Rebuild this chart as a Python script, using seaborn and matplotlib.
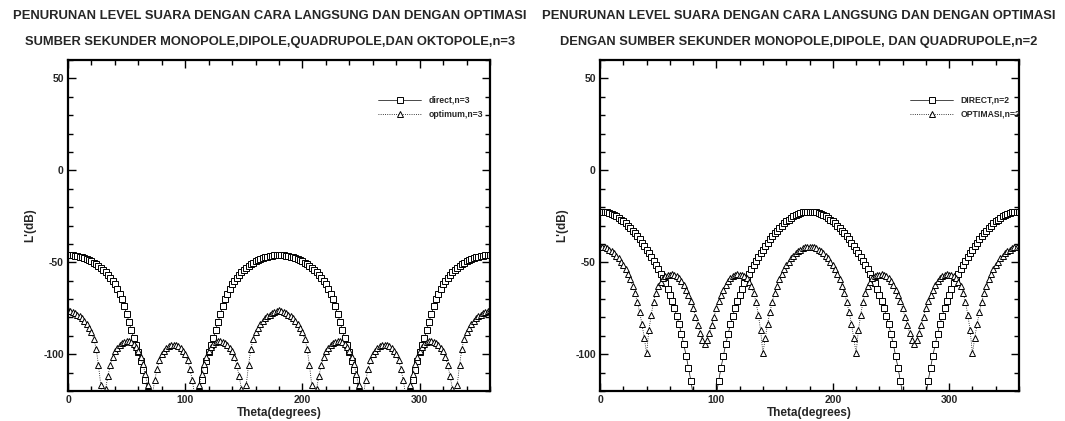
import matplotlib
matplotlib.use("Agg")
import matplotlib.pyplot as plt
import seaborn as sns
import pandas as pd
from matplotlib.ticker import MultipleLocator

sns.set_style("ticks")
plt.rcParams['font.family'] = ['Liberation Sans', 'DejaVu Sans']
plt.rcParams['font.weight'] = 'bold'
plt.rcParams['axes.unicode_minus'] = False

THETA = list(range(0, 361, 2))

direct_n3 = [
    -46.0, -46.0, -46.2, -46.4, -46.7, -47.0, -47.4, -47.8, -48.3, -48.9, -49.5, -50.3, -51.1, -52.0, -53.0, -54.0,
    -55.3, -56.7, -58.3, -60.0, -62.0, -64.4, -67.0, -70.0, -73.8, -78.0, -82.3, -86.8, -91.0, -95.0, -99.0,
    -103.6, -108.5, -114.0, -120.5, -128, -136, -144, -150, -150, -150, -150, -150, -150, -150, -150,
    -150, -150, -150, -150, -150, -150, -150, -144, -136, -128, -120.5, -114.0, -108.5, -103.6, -99.0, -95.0,
    -91.0, -86.8, -82.3, -78.0, -73.8, -70.0, -67.0, -64.4, -62.0, -60.0, -58.3, -56.7, -55.3, -54.0, -53.0,
    -52.0, -51.1, -50.3, -49.5, -48.9, -48.3, -47.8, -47.4, -47.0, -46.7, -46.4, -46.2, -46.0, -46.0,
    -46.0, -46.2, -46.4, -46.7, -47.0, -47.4, -47.8, -48.3, -48.9, -49.5, -50.3, -51.1, -52.0, -53.0, -54.0,
    -55.3, -56.7, -58.3, -60.0, -62.0, -64.4, -67.0, -70.0, -73.8, -78.0, -82.3, -86.8, -91.0, -95.0, -99.0,
    -103.6, -108.5, -114.0, -120.5, -128, -136, -144, -150, -150, -150, -150, -150, -150, -150, -150,
    -150, -150, -150, -150, -150, -150, -150, -144, -136, -128, -120.5, -114.0, -108.5, -103.6, -99.0, -95.0,
    -91.0, -86.8, -82.3, -78.0, -73.8, -70.0, -67.0, -64.4, -62.0, -60.0, -58.3, -56.7, -55.3, -54.0, -53.0,
    -52.0, -51.1, -50.3, -49.5, -48.9, -48.3, -47.8, -47.4, -47.0, -46.7, -46.4, -46.2, -46.0, -46.0,
]

optimum_n3 = [
    -76.0, -76.3, -77.0, -77.7, -78.5, -79.4, -80.5, -82.0, -83.5, -85.5, -88.0, -91.5, -97.0, -106.0, -117.0,
    -126.0, -119.0, -112.0, -106.0, -101.5, -98.5, -96.5, -95.0, -93.8, -93.2, -92.8, -93.0, -93.6, -94.6, -96.2,
    -98.5, -101.5, -105.5, -111.0, -117.0, -125.0, -122.0, -114.0, -108.0, -103.0, -100.0, -98.0, -96.6, -95.7,
    -95.2, -95.0,
    -95.2, -95.7, -96.6, -98.0, -100.0, -103.0, -108.0, -114.0, -122.0, -125.0, -117.0, -111.0, -105.5, -101.5,
    -98.5, -96.2, -94.6, -93.6, -93.0, -92.8, -93.2, -93.8, -95.0, -96.5, -98.5, -101.5, -106.0, -112.0, -119.0,
    -126.0, -117.0, -106.0, -97.0, -91.5, -88.0, -85.5, -83.5, -82.0, -80.5, -79.4, -78.5, -77.7, -77.0, -76.3,
    -76.0,
    -76.3, -77.0, -77.7, -78.5, -79.4, -80.5, -82.0, -83.5, -85.5, -88.0, -91.5, -97.0, -106.0, -117.0,
    -126.0, -119.0, -112.0, -106.0, -101.5, -98.5, -96.5, -95.0, -93.8, -93.2, -92.8, -93.0, -93.6, -94.6, -96.2,
    -98.5, -101.5, -105.5, -111.0, -117.0, -125.0, -122.0, -114.0, -108.0, -103.0, -100.0, -98.0, -96.6, -95.7,
    -95.2, -95.0,
    -95.2, -95.7, -96.6, -98.0, -100.0, -103.0, -108.0, -114.0, -122.0, -125.0, -117.0, -111.0, -105.5, -101.5,
    -98.5, -96.2, -94.6, -93.6, -93.0, -92.8, -93.2, -93.8, -95.0, -96.5, -98.5, -101.5, -106.0, -112.0, -119.0,
    -126.0, -117.0, -106.0, -97.0, -91.5, -88.0, -85.5, -83.5, -82.0, -80.5, -79.4, -78.5, -77.7, -77.0, -76.3,
    -76.0,
]

direct_n2 = [
    -22.4, -22.5, -22.6, -22.9, -23.3, -23.8, -24.4, -25.1, -25.9, -26.8, -27.8, -28.9, -30.1, -31.4, -32.8,
    -34.3, -35.9, -37.6, -39.4, -41.3, -43.3, -45.2, -47.2, -49.3, -51.5, -53.8, -56.2, -58.8, -61.5, -64.5,
    -67.7, -71.2, -75.0, -79.2, -83.8, -89.0, -94.7, -100.8, -107.3, -114.3, -122.0, -131.0, -140, -140, -140,
    -140,
    -140, -140, -140, -131.0, -122.0, -114.3, -107.3, -100.8, -94.7, -89.0, -83.8, -79.2, -75.0, -71.2, -67.7,
    -64.5, -61.5, -58.8, -56.2, -53.8, -51.5, -49.3, -47.2, -45.2, -43.3, -41.3, -39.4, -37.6, -35.9, -34.3,
    -32.8, -31.4, -30.1, -28.9, -27.8, -26.8, -25.9, -25.1, -24.4, -23.8, -23.3, -22.9, -22.6, -22.5, -22.4,
    -22.5, -22.6, -22.9, -23.3, -23.8, -24.4, -25.1, -25.9, -26.8, -27.8, -28.9, -30.1, -31.4, -32.8,
    -34.3, -35.9, -37.6, -39.4, -41.3, -43.3, -45.2, -47.2, -49.3, -51.5, -53.8, -56.2, -58.8, -61.5, -64.5,
    -67.7, -71.2, -75.0, -79.2, -83.8, -89.0, -94.7, -100.8, -107.3, -114.3, -122.0, -131.0, -140, -140, -140,
    -140,
    -140, -140, -140, -131.0, -122.0, -114.3, -107.3, -100.8, -94.7, -89.0, -83.8, -79.2, -75.0, -71.2, -67.7,
    -64.5, -61.5, -58.8, -56.2, -53.8, -51.5, -49.3, -47.2, -45.2, -43.3, -41.3, -39.4, -37.6, -35.9, -34.3,
    -32.8, -31.4, -30.1, -28.9, -27.8, -26.8, -25.9, -25.1, -24.4, -23.8, -23.3, -22.9, -22.6, -22.5, -22.4,
]

optimasi_n2 = [
    -41.5, -41.6, -41.9, -42.4, -43.1, -44.0, -45.1, -46.4, -47.9, -49.6, -51.5, -53.7, -56.2, -59.2, -62.7,
    -66.8, -71.5, -77.0, -83.5, -91.0, -99.5, -87.0, -78.5, -71.5, -66.5, -63.0, -60.5, -58.8, -57.7, -57.0,
    -56.7, -56.6, -56.8, -57.4, -58.4, -60.0, -62.2, -65.0, -68.0, -71.0, -75.0, -79.5, -84.0, -88.5, -92.5,
    -94.5,
    -92.5, -88.5, -84.0, -79.5, -75.0, -71.0, -68.0, -65.0, -62.2, -60.0, -58.4, -57.4, -56.8, -56.6, -56.7,
    -57.0, -57.7, -58.8, -60.5, -63.0, -66.5, -71.5, -78.5, -87.0, -99.5, -91.0, -83.5, -77.0, -71.5, -66.8,
    -62.7, -59.2, -56.2, -53.7, -51.5, -49.6, -47.9, -46.4, -45.1, -44.0, -43.1, -42.4, -41.9, -41.6, -41.5,
    -41.6, -41.9, -42.4, -43.1, -44.0, -45.1, -46.4, -47.9, -49.6, -51.5, -53.7, -56.2, -59.2, -62.7,
    -66.8, -71.5, -77.0, -83.5, -91.0, -99.5, -87.0, -78.5, -71.5, -66.5, -63.0, -60.5, -58.8, -57.7, -57.0,
    -56.7, -56.6, -56.8, -57.4, -58.4, -60.0, -62.2, -65.0, -68.0, -71.0, -75.0, -79.5, -84.0, -88.5, -92.5,
    -94.5,
    -92.5, -88.5, -84.0, -79.5, -75.0, -71.0, -68.0, -65.0, -62.2, -60.0, -58.4, -57.4, -56.8, -56.6, -56.7,
    -57.0, -57.7, -58.8, -60.5, -63.0, -66.5, -71.5, -78.5, -87.0, -99.5, -91.0, -83.5, -77.0, -71.5, -66.8,
    -62.7, -59.2, -56.2, -53.7, -51.5, -49.6, -47.9, -46.4, -45.1, -44.0, -43.1, -42.4, -41.9, -41.6, -41.5,
]

for s in (direct_n3, optimum_n3, direct_n2, optimasi_n2):
    assert len(s) == len(THETA), len(s)

LEFT_TITLE = ["PENURUNAN LEVEL SUARA DENGAN CARA LANGSUNG DAN DENGAN OPTIMASI",
              "SUMBER SEKUNDER MONOPOLE,DIPOLE,QUADRUPOLE,DAN OKTOPOLE,n=3"]
RIGHT_TITLE = ["PENURUNAN LEVEL SUARA DENGAN CARA LANGSUNG DAN DENGAN OPTIMASI",
               "DENGAN SUMBER SEKUNDER MONOPOLE,DIPOLE, DAN QUADRUPOLE,n=2"]
LEFT_LABELS = ["direct,n=3", "optimum,n=3"]
RIGHT_LABELS = ["DIRECT,n=2", "OPTIMASI,n=2"]
XTICKS = [0, 100, 200, 300]
YTICKS = [-100, -50, 0, 50]

W, H = 1065, 421
fig = plt.figure(figsize=(W / 100, H / 100), dpi=100)


def px_axes(x0, x1, y0, y1):
    return fig.add_axes([x0 / W, 1 - y1 / H, (x1 - x0) / W, (y1 - y0) / H])


ax1 = px_axes(68, 490, 60, 391)
ax2 = px_axes(600, 1019, 60, 391)


def draw(ax, d, o, labels, titles, tcx, legx):
    df = pd.DataFrame({"theta": THETA, "d": d, "o": o})
    sns.lineplot(data=df, x="theta", y="d", ax=ax, sort=False, color="black",
                 linewidth=0.5, marker="s", markersize=4.3, markerfacecolor="white",
                 markeredgecolor="black", markeredgewidth=0.7, label=labels[0])
    sns.lineplot(data=df, x="theta", y="o", ax=ax, sort=False, color="black",
                 linewidth=0.6, linestyle=":", marker="^", markersize=4.3,
                 markerfacecolor="white", markeredgecolor="black",
                 markeredgewidth=0.7, label=labels[1])
    ax.set_xlim(0, 360)
    ax.set_ylim(-120, 60)
    ax.set_xticks(XTICKS)
    ax.set_yticks(YTICKS)
    ax.xaxis.set_minor_locator(MultipleLocator(20))
    ax.yaxis.set_minor_locator(MultipleLocator(10))
    ax.tick_params(which="both", direction="in", top=True, right=True,
                   color="black", width=1.0, labelsize=7.5, pad=3)
    ax.tick_params(which="major", length=6)
    ax.tick_params(which="minor", length=3.5)
    for lab in ax.get_xticklabels() + ax.get_yticklabels():
        lab.set_fontweight("bold")
    for sp in ax.spines.values():
        sp.set_linewidth(1.6)
        sp.set_color("black")
    ax.set_xlabel("Theta(degrees)", fontsize=8.5, fontweight="bold", labelpad=1)
    ax.set_ylabel("L'(dB)", fontsize=8.5, fontweight="bold", labelpad=5)
    leg = ax.legend(loc="upper left", bbox_to_anchor=(legx / W, 1 - 96 / H),
                    bbox_transform=fig.transFigure, frameon=False,
                    fontsize=6.2, handlelength=5.0, handletextpad=0.9,
                    labelspacing=0.55, borderpad=0, borderaxespad=0)
    for t in leg.get_texts():
        t.set_fontweight("bold")
    fig.text(tcx / W, 1 - 16 / H, titles[0], ha="center", va="center",
             fontsize=9.4, fontweight="bold")
    fig.text(tcx / W, 1 - 42 / H, titles[1], ha="center", va="center",
             fontsize=9.3, fontweight="bold")


draw(ax1, direct_n3, optimum_n3, LEFT_LABELS, LEFT_TITLE, 270, 378)
draw(ax2, direct_n2, optimasi_n2, RIGHT_LABELS, RIGHT_TITLE, 799, 910)

fig.savefig("out.png", dpi=100)
